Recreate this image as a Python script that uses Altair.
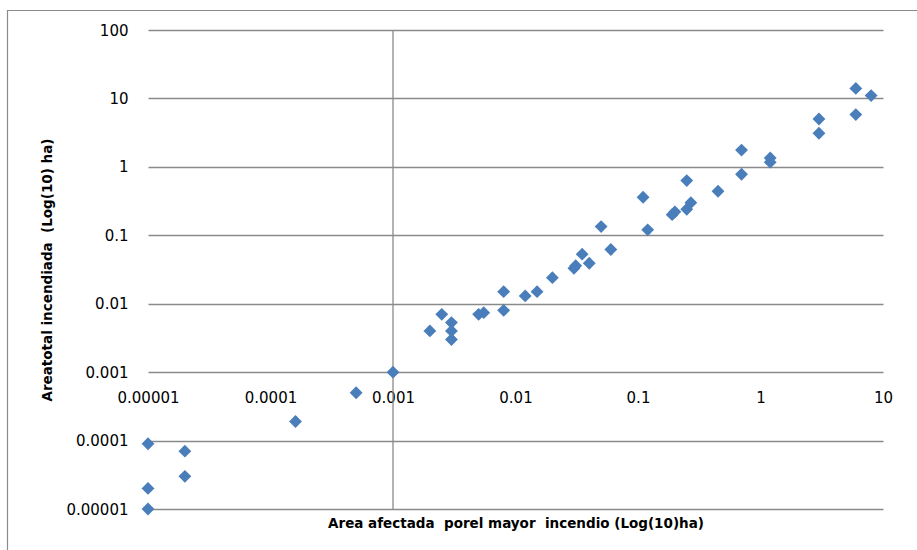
import altair as alt
import pandas as pd

# Area afectada por el mayor incendio (ha)
mayor_incendio = [1e-5, 1e-5, 1e-5, 2e-5, 2e-5, 0.00016, 0.0005, 0.001, 0.002, 0.0025,
                  0.003, 0.003, 0.003, 0.005, 0.0055, 0.008, 0.008, 0.012, 0.015, 0.02,
                  0.03, 0.031, 0.035, 0.04, 0.05, 0.06, 0.11, 0.12, 0.19, 0.2,
                  0.25, 0.25, 0.27, 0.45, 0.7, 0.7, 1.2, 1.2, 3, 3,
                  6, 6, 8]
# Area total incendiada (ha)
area_total = [9e-5, 2e-5, 1e-5, 7e-5, 3e-5, 0.00019, 0.0005, 0.001, 0.004, 0.007,
              0.0053, 0.004, 0.003, 0.007, 0.0074, 0.015, 0.008, 0.013, 0.015, 0.024,
              0.033, 0.036, 0.053, 0.039, 0.134, 0.062, 0.36, 0.12, 0.20, 0.22,
              0.24, 0.63, 0.30, 0.44, 1.76, 0.78, 1.35, 1.17, 5.0, 3.1,
              14, 5.8, 11]

x_ticks = [1e-5, 1e-4, 1e-3, 1e-2, 1e-1, 1, 10]
y_ticks = [1e-5, 1e-4, 1e-3, 1e-2, 1e-1, 1, 10, 100]
cross_at = [0.001]

x_title = "Area afectada\u00a0 porel mayor\u00a0 incendio (Log(10)ha)"
y_title = "Areatotal incendiada\u00a0 (Log(10) ha)"

df = pd.DataFrame({"x": mayor_incendio, "y": area_total})
cross_df = pd.DataFrame({"x": cross_at})

W, H = 735, 479
GRID = "#8a8a8a"
FONT = "DejaVu Sans"
LABEL_EXPR = "format(datum.value, '.5~f')"

xscale = alt.Scale(type="log", domain=[1e-5, 10], nice=False)
yscale = alt.Scale(type="log", domain=[1e-5, 100], nice=False)

points = alt.Chart(df).mark_point(
    shape="diamond", filled=True, size=165, color="#4A7EBB", opacity=1
).encode(
    x=alt.X("x:Q", scale=xscale,
            axis=alt.Axis(values=x_ticks, labelExpr=LABEL_EXPR, grid=False,
                          domain=False, ticks=False, offset=-137, labelPadding=18,
                          labelFont=FONT, labelFontSize=15, labelColor="#000000",
                          title=x_title,
                          titleFont=FONT, titleFontSize=13.5, titleFontWeight="bold",
                          titleColor="#000000", titleY=151, titleBaseline="middle",
                          labelFlush=False, labelOverlap=False)),
    y=alt.Y("y:Q", scale=yscale,
            axis=alt.Axis(values=y_ticks, labelExpr=LABEL_EXPR, grid=True,
                          gridColor=GRID, gridWidth=1.3,
                          domain=False, ticks=False, labelPadding=20,
                          labelFont=FONT, labelFontSize=15, labelColor="#000000",
                          title=y_title,
                          titleFont=FONT, titleFontSize=13.5, titleFontWeight="bold",
                          titleColor="#000000", titleX=-101, titleY=H / 2,
                          titleAngle=-90, titleAlign="center", titleBaseline="middle",
                          labelFlush=False, labelOverlap=False)),
)

vline = alt.Chart(cross_df).mark_rule(color=GRID, strokeWidth=1.3).encode(
    x=alt.X("x:Q", scale=xscale),
    y=alt.value(0), y2=alt.value(H),
)

border = alt.Chart(pd.DataFrame({"b": [0]})).mark_rect(
    fill=None, stroke="#8a8a8a", strokeWidth=1.2
).encode(
    x=alt.value(-140.5), x2=alt.value(W + 60),
    y=alt.value(-19.5), y2=alt.value(H + 60),
)

chart = alt.layer(border, vline, points).properties(
    width=W, height=H,
    autosize=alt.AutoSizeParams(type="none"),
    padding={"left": 148, "top": 30, "right": 34, "bottom": 41},
    background="white",
).configure_view(strokeWidth=0)

chart.save("out.html", embed_options={"renderer": "svg", "actions": False})
